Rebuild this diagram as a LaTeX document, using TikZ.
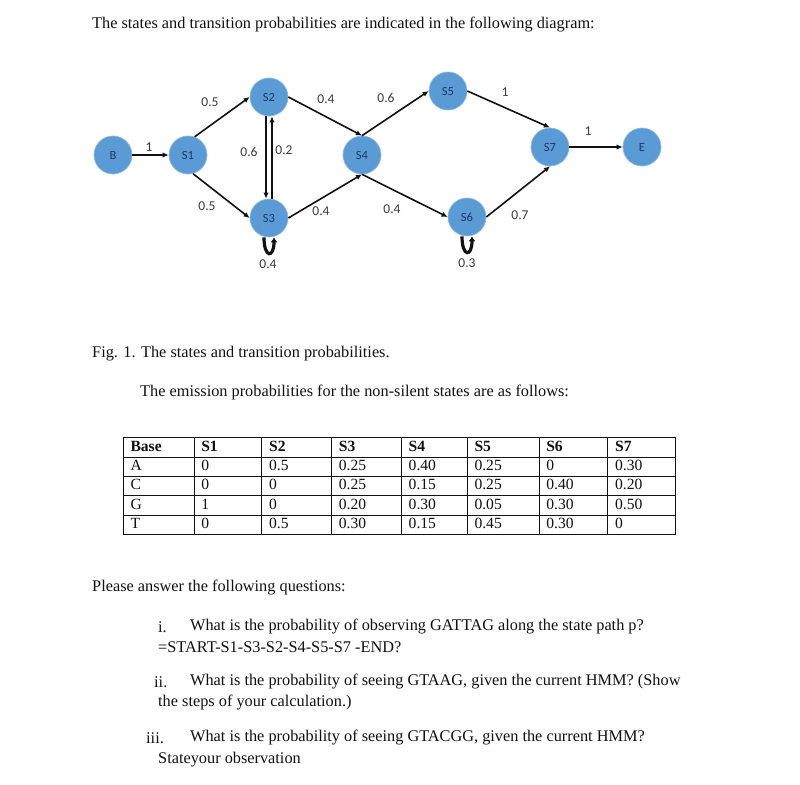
\documentclass[tikz,border=0pt]{standalone}
\usepackage{fontspec}
\setmainfont{Liberation Serif}
\newfontfamily\diagfont{Carlito}
\usepackage{array}
\usetikzlibrary{positioning,arrows.meta}
\definecolor{stateFill}{HTML}{5B9BD5}
\definecolor{stateBorder}{HTML}{8DB8E4}
\definecolor{stateText}{HTML}{1F3864}
\definecolor{probText}{HTML}{3A3A3A}
\definecolor{ink}{HTML}{111111}
\definecolor{paper}{HTML}{FFFFFF}
\newcommand{\bodysize}{\fontsize{16.3}{19}\selectfont}
\newcommand{\tablesize}{\fontsize{15.6}{18.6}\selectfont}

\begin{document}
\begin{tikzpicture}[
    x=1pt, y=-1pt,
    >={Latex[length=6pt,width=5.4pt]},
    every node/.style={text=ink},
    state/.style={
        circle, fill=stateFill, draw=stateBorder, line width=0.7pt,
        minimum size=38pt, inner sep=0pt,
        font=\diagfont\fontsize{12.5}{14}\selectfont, text=stateText,
    },
    prob/.style={font=\diagfont\fontsize{13.5}{15}\selectfont, text=probText, inner sep=1pt},
    trans/.style={->, line width=1.6pt, draw=ink},
    selfloop/.style={->, line width=3.2pt, draw=ink,
                     >={Latex[length=5pt,width=7pt]}},
    bodytext/.style={anchor=west, inner sep=0pt, font=\bodysize},
]

% --- page ---
\fill[paper] (0,0) rectangle (800,784);
\useasboundingbox (0,0) rectangle (800,784);

% --- Text above the diagram ---
\node[bodytext] (intro) at (92,25)
  {The states and transition probabilities are indicated in the following diagram:};

% --- States ---
\node[state] (B)  at (113,155) {B};
\node[state] (S1) at (188,155) {S1};
\node[state] (S2) at (269,97)  {S2};
\node[state] (S3) at (269,218) {S3};
\node[state] (S4) at (362,155) {S4};
\node[state] (S5) at (448,91)  {S5};
\node[state] (S6) at (467,217) {S6};
\node[state] (S7) at (550,147) {S7};
\node[state] (E)  at (642,147) {E};

% --- Transitions ---
\draw[trans] (B) -- (S1);
\draw[trans] (S1.70)  -- (S2.west);
\draw[trans] (S1.-75) -- (S3.west);
\draw[trans] ([xshift=-3pt]S2.south) -- ([xshift=-3pt]S3.north);
\draw[trans] ([xshift=3pt]S3.north)  -- ([xshift=3pt]S2.south);
\draw[trans] (S2.east)  -- (S4.north);
\draw[trans] (S3.east)  -- (S4.south);
\draw[trans] (S4.north) -- (S5.west);
\draw[trans] (S4.south) -- (S6.west);
\draw[trans] (S5.east)  -- (S7.north);
\draw[trans] (S6.east)  -- (S7.south);
\draw[trans] (S7) -- (E);

% --- Self loops ---
\draw[selfloop] ([xshift=-5pt]S3.south) .. controls +(0,21) and +(0,21) .. ([xshift=5pt]S3.south);
\draw[selfloop] ([xshift=-5pt]S6.south) .. controls +(0,21) and +(0,21) .. ([xshift=5pt]S6.south);

% --- Transition probabilities ---
\node[prob] (pB1)  at (149,147) {1};
\node[prob] (p12)  at (210,102) {0.5};
\node[prob] (p13)  at (207,206) {0.5};
\node[prob] (p23)  at (249,152) {0.6};
\node[prob] (p32)  at (284,150) {0.2};
\node[prob] (p24)  at (326,99)  {0.4};
\node[prob] (p34)  at (321,211) {0.4};
\node[prob] (p33)  at (268,264) {0.4};
\node[prob] (p45)  at (386,98)  {0.6};
\node[prob] (p46)  at (392,209) {0.4};
\node[prob] (p57)  at (505,92)  {1};
\node[prob] (p67)  at (520,215) {0.7};
\node[prob] (p66)  at (467,263) {0.3};
\node[prob] (p7E)  at (588,131) {1};

% --- Caption and emission table ---
\node[bodytext] (caption) at (92,354) {Fig. 1. The states and transition probabilities.};
\node[bodytext] (emitintro) at (140,392)
  {The emission probabilities for the non-silent states are as follows:};

\node[anchor=north west, inner sep=0pt, font=\tablesize] (emission) at (122.5,437) {%
  \setlength\tabcolsep{7pt}\setlength\arrayrulewidth{0.8pt}%
  \renewcommand\arraystretch{1.0}%
  \begin{tabular}{|p{56pt}|p{53pt}|p{55pt}|p{55pt}|p{51pt}|p{57pt}|p{54pt}|p{53pt}|}
    \hline
    \textbf{Base} & \textbf{S1} & \textbf{S2} & \textbf{S3} & \textbf{S4} & \textbf{S5} & \textbf{S6} & \textbf{S7}\\ \hline
    A & 0 & 0.5 & 0.25 & 0.40 & 0.25 & 0    & 0.30\\ \hline
    C & 0 & 0   & 0.25 & 0.15 & 0.25 & 0.40 & 0.20\\ \hline
    G & 1 & 0   & 0.20 & 0.30 & 0.05 & 0.30 & 0.50\\ \hline
    T & 0 & 0.5 & 0.30 & 0.15 & 0.45 & 0.30 & 0\\ \hline
  \end{tabular}};

% --- Questions ---
\node[bodytext] (ask) at (92,588) {Please answer the following questions:};
\node[bodytext] (q1num) at (158,627) {i.};
\node[bodytext] (q1)    at (190,627) {What is the probability of observing GATTAG along the state path p?};
\node[bodytext] (q1b)   at (158,647) {=START-S1-S3-S2-S4-S5-S7 -END?};
\node[bodytext] (q2num) at (154,682) {ii.};
\node[bodytext] (q2)    at (190,682) {What is the probability of seeing GTAAG, given the current HMM? (Show};
\node[bodytext] (q2b)   at (158,703) {the steps of your calculation.)};
\node[bodytext] (q3num) at (146,738) {iii.};
\node[bodytext] (q3)    at (190,738) {What is the probability of seeing GTACGG, given the current HMM?};
\node[bodytext] (q3b)   at (158,760) {Stateyour observation};

\end{tikzpicture}
\end{document}
